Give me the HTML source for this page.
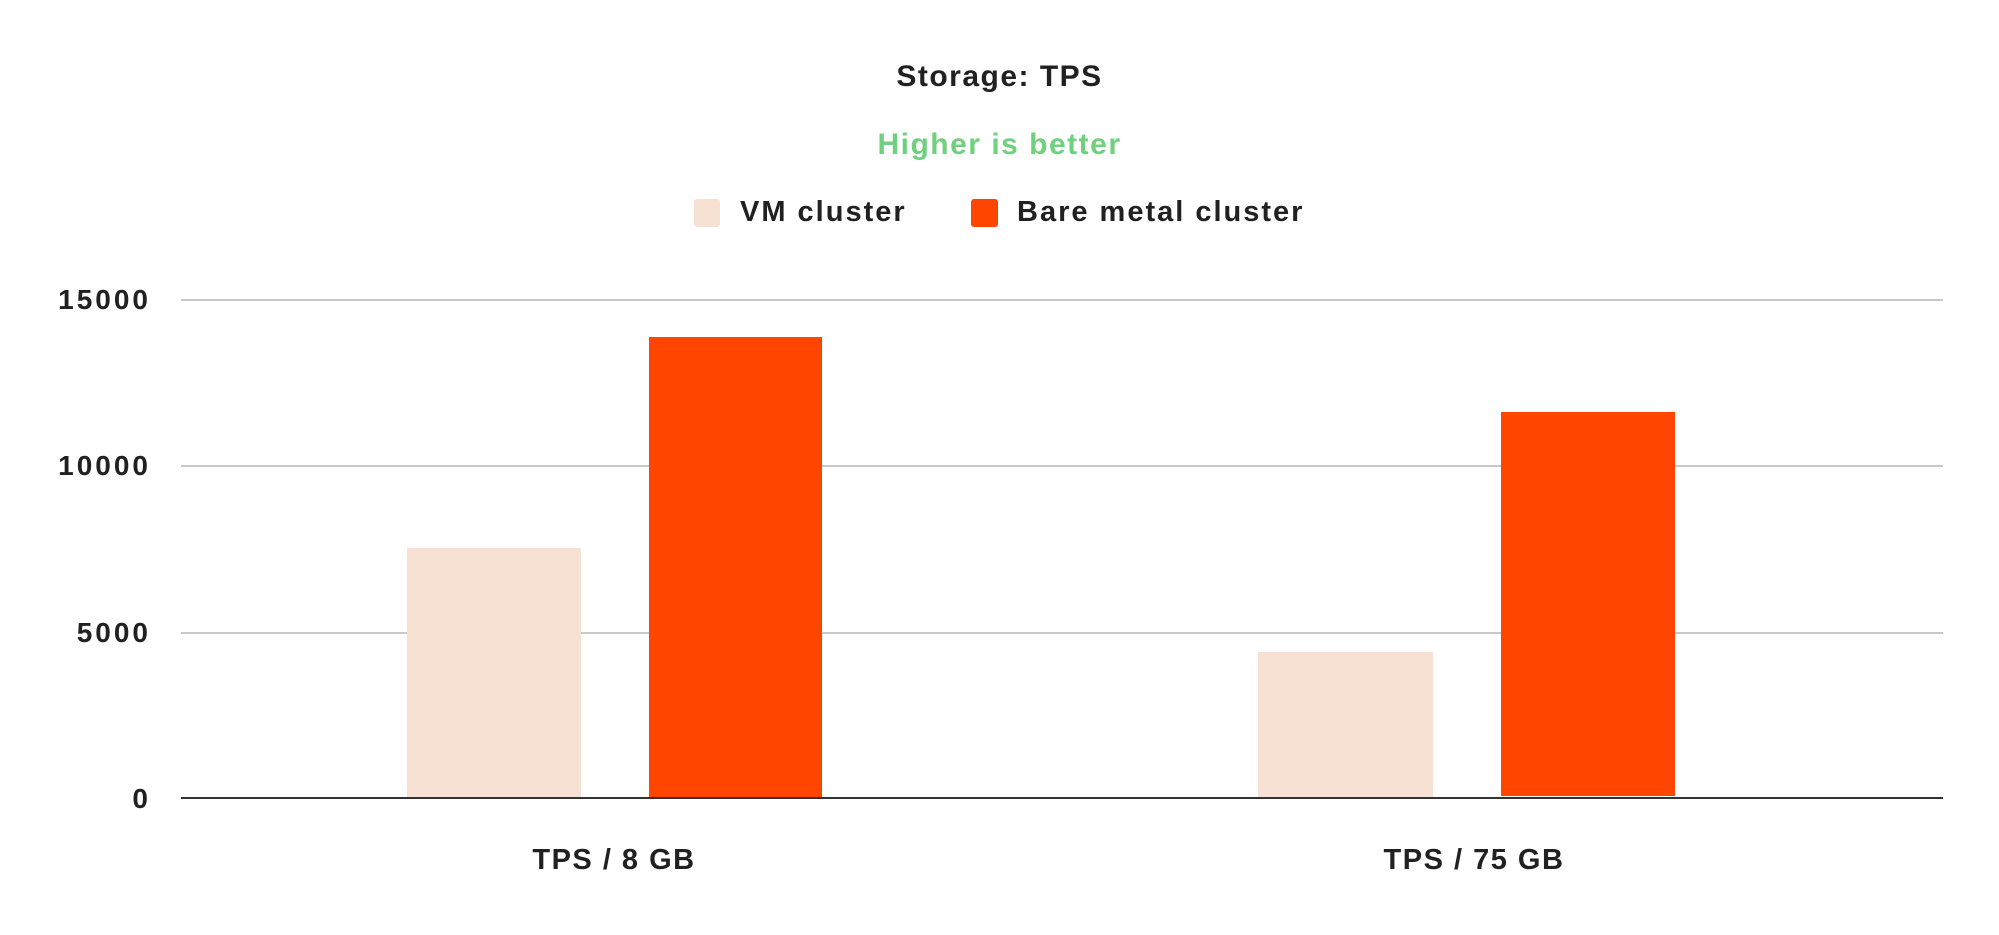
<!DOCTYPE html>
<html><head><meta charset="utf-8"><style>
html,body{margin:0;padding:0;background:#fff;}
body{width:1999px;height:935px;position:relative;overflow:hidden;font-family:"Liberation Sans",sans-serif;}
.t{position:absolute;white-space:nowrap;color:#212121;font-weight:bold;}
.g{position:absolute;left:181px;width:1762px;height:2px;background:#c8c8c8;}
.b{position:absolute;}
</style></head><body>
<div class="t" style="left:0;width:1999px;text-align:center;top:60px;font-size:30px;letter-spacing:1.5px;">Storage: TPS</div>
<div class="t" style="left:0;width:1999px;text-align:center;top:128px;font-size:30px;letter-spacing:1.5px;color:#6fd07d;">Higher is better</div>
<div class="b" style="left:694px;top:199px;width:26px;height:28px;background:#f7e1d3;border-radius:3px;"></div>
<div class="t" style="left:740px;top:196px;font-size:29px;letter-spacing:2px;">VM cluster</div>
<div class="b" style="left:971px;top:199px;width:27px;height:28px;background:#ff4500;border-radius:3px;"></div>
<div class="t" style="left:1017px;top:196px;font-size:29px;letter-spacing:2px;">Bare metal cluster</div>
<div class="g" style="top:299px"></div>
<div class="g" style="top:465px"></div>
<div class="g" style="top:632px"></div>
<div class="t" style="left:0;width:151px;text-align:right;top:284px;font-size:28px;letter-spacing:3px;">15000</div>
<div class="t" style="left:0;width:151px;text-align:right;top:450px;font-size:28px;letter-spacing:3px;">10000</div>
<div class="t" style="left:0;width:151px;text-align:right;top:617px;font-size:28px;letter-spacing:3px;">5000</div>
<div class="t" style="left:0;width:151px;text-align:right;top:783px;font-size:28px;letter-spacing:3px;">0</div>
<div class="b" style="left:407px;top:548px;width:174px;height:250px;background:#f7e1d3;"></div>
<div class="b" style="left:649px;top:337px;width:173px;height:461px;background:#ff4500;"></div>
<div class="b" style="left:1258px;top:652px;width:175px;height:146px;background:#f7e1d3;"></div>
<div class="b" style="left:1501px;top:412px;width:174px;height:384px;background:#ff4500;"></div>
<div class="b" style="left:181px;top:797px;width:1762px;height:2px;background:#333;"></div>
<div class="t" style="left:464px;width:300px;text-align:center;top:844px;font-size:29px;letter-spacing:1.5px;">TPS / 8 GB</div>
<div class="t" style="left:1324px;width:300px;text-align:center;top:844px;font-size:29px;letter-spacing:1.5px;">TPS / 75 GB</div>
</body></html>
